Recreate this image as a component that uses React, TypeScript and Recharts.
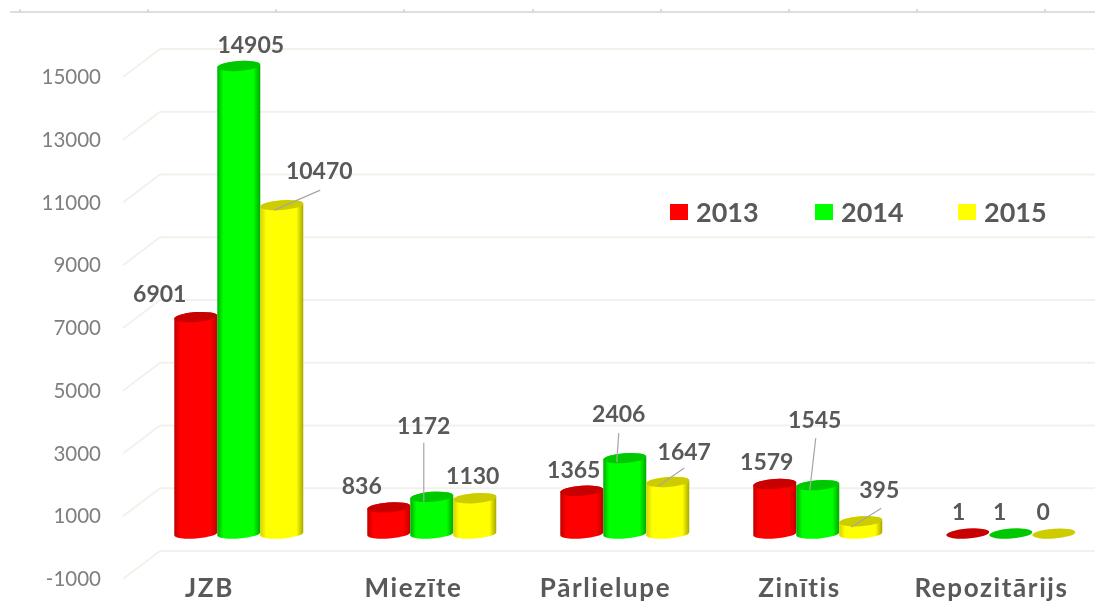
import React from 'react';
import { BarChart, Bar, XAxis, YAxis, CartesianGrid, Legend, LabelList } from 'recharts';

const categories = ['JZB', 'Miezīte', 'Pārlielupe', 'Zinītis', 'Repozitārijs'];
const values2013 = [6901, 836, 1365, 1579, 1];
const values2014 = [14905, 1172, 2406, 1545, 1];
const values2015 = [10470, 1130, 1647, 395, 0];
const yTicks = [-1000, 1000, 3000, 5000, 7000, 9000, 11000, 13000, 15000];

const chartData = categories.map((name, i) => ({
  name,
  y2013: values2013[i],
  y2014: values2014[i],
  y2015: values2015[i],
}));

// the fake 3D: bars stand half way into the floor, the tick labels at its front edge
const DEPTH_X = 37;
const DEPTH_Y = 28;
const BAR_DX = -17;
const BAR_DY = 14;

const TEXT_FONT = 'Lato, sans-serif';
const LABEL_COLOR = '#595959';
const GRID_COLOR = '#f2f2ea';

// hand placed labels, relative to the top of each bar: [dx, dy, leader?]
type Placement = { dx: number; dy: number; leader?: [number, number, number, number] };

const labels2013: Placement[] = [
  { dx: -36, dy: -23 },
  { dx: -27, dy: -21 },
  { dx: -8, dy: -21 },
  { dx: -8, dy: -22 },
  { dx: -9, dy: -22 },
];
const labels2014: Placement[] = [
  { dx: 12, dy: -21 },
  { dx: -8, dy: -71, leader: [-8, -54, -8, 5] },
  { dx: -6, dy: -44, leader: [-6, -25, -8, 4] },
  { dx: -3, dy: -65, leader: [-2, -47, -8, 5] },
  { dx: -11, dy: -22 },
];
const labels2015: Placement[] = [
  { dx: 37.5, dy: -34, leader: [38.5, -15, -7.5, 5] },
  { dx: -2, dy: -22 },
  { dx: 16.5, dy: -30, leader: [16.5, -14, -9.5, 4] },
  { dx: 18.5, dy: -31, leader: [20.5, -13, -9.5, 6] },
  { dx: -10.5, dy: -22 },
];

const xLabelShift = [-47, -36, -37, -36, -37];
const ruleTicks = [20, 148, 276, 404, 533, 661, 789, 917, 1045];

const GridLine = ({ x1, x2, y1 }: any) => (
  <g stroke={GRID_COLOR} strokeWidth={2} fill="none">
    <line x1={x1} x2={x2} y1={y1} y2={y1} />
    <line x1={x1} x2={x1 - DEPTH_X} y1={y1} y2={y1 + DEPTH_Y} />
  </g>
);

const YTick = ({ x, y, payload }: any) => (
  <text
    x={101}
    y={y + DEPTH_Y}
    dy={7}
    textAnchor="end"
    fontFamily={TEXT_FONT}
    fontSize={20.5}
    fill="#7f7f7f"
  >
    {payload.value}
  </text>
);

const XTick = ({ x, y, payload, index }: any) => (
  <text
    x={x + xLabelShift[index]}
    y={y}
    dy={38}
    textAnchor="middle"
    fontFamily={TEXT_FONT}
    fontSize={26}
    letterSpacing={1.6}
    fontWeight={700}
    fill={LABEL_COLOR}
  >
    {payload.value}
  </text>
);

const Cylinder = ({ x, y, width, height, gradient, capColor }: any) => {
  const rx = width / 2;
  const ry = 5;
  const cx = x + rx + BAR_DX;
  const top = y + BAR_DY;
  const bottom = top + height;
  const tilt = 1.5;
  const body =
    `M${cx - rx},${top + tilt} L${cx - rx},${bottom + tilt} ` +
    `A${rx},${ry} -4 0 0 ${cx + rx},${bottom - tilt} L${cx + rx},${top - tilt} ` +
    `A${rx},${ry} -4 0 0 ${cx - rx},${top + tilt} Z`;
  return (
    <g>
      {height > 2 && <path d={body} fill={`url(#${gradient})`} />}
      <ellipse
        cx={cx}
        cy={top}
        rx={rx}
        ry={ry}
        fill={capColor}
        transform={`rotate(-4 ${cx} ${top})`}
      />
    </g>
  );
};

const makeLabel = (placements: Placement[]) => (props: any) => {
  const { x, y, width, value, index } = props;
  const p = placements[index];
  const cx = x + width / 2 + BAR_DX;
  const cy = y + BAR_DY;
  return (
    <g>
      {p.leader && (
        <line
          x1={cx + p.leader[0]}
          y1={cy + p.leader[1]}
          x2={cx + p.leader[2]}
          y2={cy + p.leader[3]}
          stroke="#a6a6a6"
          strokeWidth={1.2}
        />
      )}
      <text
        x={cx + p.dx}
        y={cy + p.dy}
        dy={8}
        textAnchor="middle"
        fontFamily={TEXT_FONT}
        fontSize={23}
        fontWeight={700}
        fill={LABEL_COLOR}
      >
        {value}
      </text>
    </g>
  );
};

const ChartLegend = ({ payload }: any) => (
  <div style={{ position: 'relative', width: 400, height: 30 }}>
    {payload.map((item: any, i: number) => (
      <div
        key={item.value}
        style={{ position: 'absolute', left: [0, 145, 288][i], top: 0, display: 'flex', alignItems: 'center' }}
      >
        <span style={{ width: 18, height: 16, background: item.color, marginRight: 8 }} />
        <span style={{ fontFamily: TEXT_FONT, fontSize: 27, fontWeight: 700, color: LABEL_COLOR, lineHeight: '30px' }}>
          {item.value}
        </span>
      </div>
    ))}
  </div>
);

const sideGradient = (id: string, edge: string, mid: string, far: string) => (
  <linearGradient id={id} x1="0" y1="0" x2="1" y2="0">
    <stop offset="0%" stopColor={edge} />
    <stop offset="14%" stopColor={mid} />
    <stop offset="84%" stopColor={mid} />
    <stop offset="100%" stopColor={far} />
  </linearGradient>
);

const App = () => (
  <div
    style={{
      position: 'absolute',
      left: 0,
      top: 0,
      width: 1095,
      height: 605,
      overflow: 'hidden',
      background: '#fff',
      filter: 'blur(0.4px)',
    }}
  >
    <svg width={1095} height={20} style={{ position: 'absolute', left: 0, top: 0 }}>
      <line x1={10} x2={1095} y1={12} y2={12} stroke="#dedede" strokeWidth={2} />
      {ruleTicks.map((t) => (
        <line key={t} x1={t} x2={t} y1={9} y2={12} stroke="#cfcfcf" strokeWidth={1.5} />
      ))}
    </svg>
    <BarChart
      width={1130}
      height={605}
      data={chartData}
      margin={{ top: 49, right: 5, bottom: 0, left: 0 }}
      barCategoryGap="16.2%"
      barGap={0}
      style={{ position: 'absolute', left: 0, top: 0 }}
    >
      <defs>
        {sideGradient('side2013', '#c00000', '#ff0000', '#c00000')}
        {sideGradient('side2014', '#00b000', '#00ff00', '#00a800')}
        {sideGradient('side2015', '#d4d400', '#ffff00', '#a8a800')}
      </defs>
      <CartesianGrid vertical={false} horizontal={(props: any) => <GridLine key={props.key} {...props} />} />
      <XAxis
        dataKey="name"
        height={54}
        axisLine={false}
        tickLine={false}
        interval={0}
        tick={XTick}
      />
      <YAxis
        width={160}
        domain={[-1000, 15000]}
        ticks={yTicks}
        interval={0}
        axisLine={false}
        tickLine={false}
        tick={YTick}
      />
      <Legend
        layout="horizontal"
        verticalAlign="middle"
        content={ChartLegend}
        wrapperStyle={{ left: 670, top: 197, width: 400, height: 30 }}
      />
      <Bar
        dataKey="y2013"
        name="2013"
        fill="#ff0000"
        isAnimationActive={false}
        shape={(p: any) => <Cylinder {...p} gradient="side2013" capColor="#c80000" />}
      >
        <LabelList dataKey="y2013" content={makeLabel(labels2013)} />
      </Bar>
      <Bar
        dataKey="y2014"
        name="2014"
        fill="#00ff00"
        isAnimationActive={false}
        shape={(p: any) => <Cylinder {...p} gradient="side2014" capColor="#00c800" />}
      >
        <LabelList dataKey="y2014" content={makeLabel(labels2014)} />
      </Bar>
      <Bar
        dataKey="y2015"
        name="2015"
        fill="#ffff00"
        isAnimationActive={false}
        shape={(p: any) => <Cylinder {...p} gradient="side2015" capColor="#cccc00" />}
      >
        <LabelList dataKey="y2015" content={makeLabel(labels2015)} />
      </Bar>
    </BarChart>
  </div>
);

export default App;
